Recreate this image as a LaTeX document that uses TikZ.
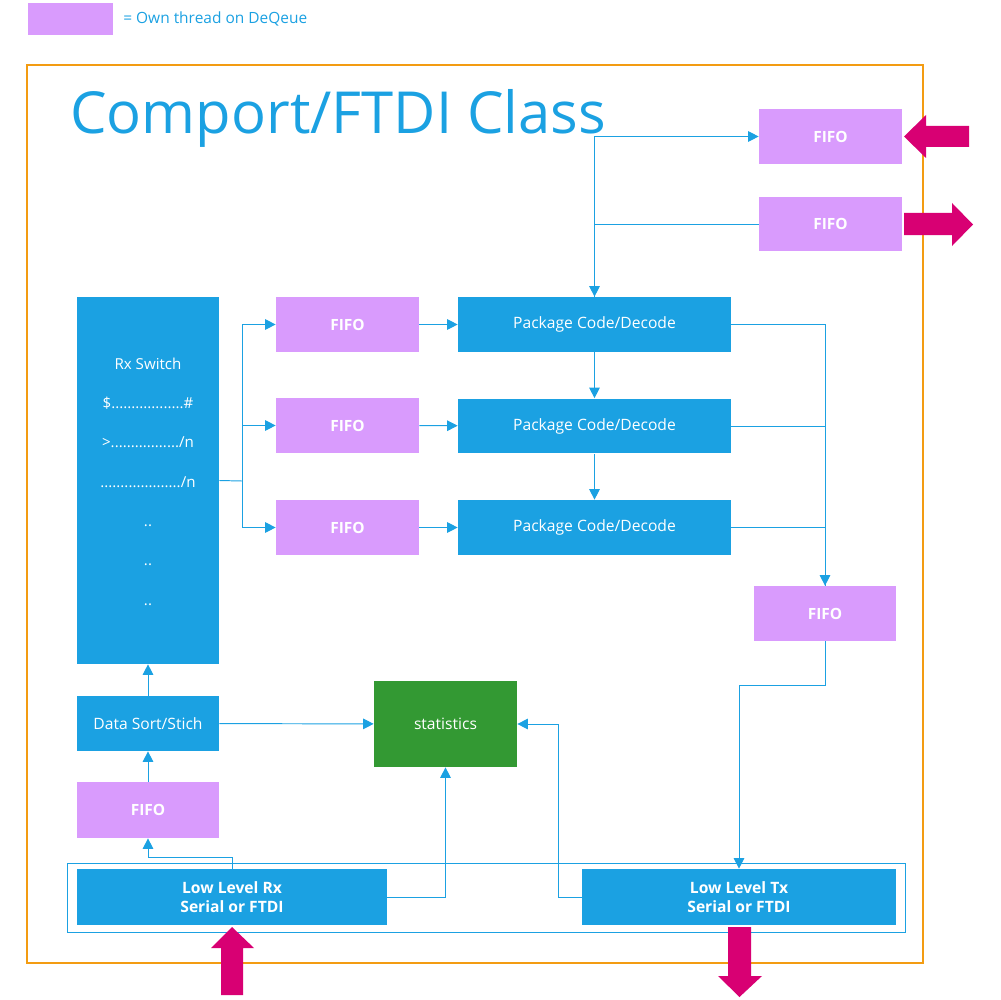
\documentclass[tikz,border=0pt]{standalone}
\usepackage{fontspec}
\setmainfont{Open Sans}
\usetikzlibrary{arrows.meta, calc}
\definecolor{cpblue}{HTML}{1BA1E2}
\definecolor{cplilac}{HTML}{D99BFD}
\definecolor{cpgreen}{HTML}{339933}
\definecolor{cpmagenta}{HTML}{D80073}
\definecolor{cporange}{HTML}{F39C12}

\tikzset{
  blk/.style={fill=cpblue, text=white, inner sep=0pt, font=\fontsize{8.9}{10}\selectfont},
  fifo/.style={fill=cplilac, text=white, inner sep=0pt, minimum width=2.86cm,
               minimum height=1.1cm, font=\fontsize{8.8}{10}\selectfont\bfseries},
  pkg/.style={blk, minimum width=5.46cm, minimum height=1.1cm},
  lnk/.style={draw=cpblue, line width=0.55pt},
  arr/.style={lnk, -{Triangle[length=6pt,width=6pt]}},
}

\begin{document}
\begin{tikzpicture}[x=0.02cm, y=-0.02cm]
  \useasboundingbox (0,0) rectangle (1000,1000);

  % legend
  \node[fill=cplilac, minimum width=1.7cm, minimum height=0.64cm, inner sep=0pt] (legbox) at (70.5,19) {};
  \node[anchor=west, text=cpblue, inner sep=0pt, font=\fontsize{8.8}{10}\selectfont] (legtext) at (123,19) {= Own thread on DeQeue};

  % class frame
  \draw[cporange, line width=1.2pt] (27,65) rectangle (923,963);
  \node[anchor=base west, text=cpblue, inner sep=0pt, font=\fontsize{33}{40}\selectfont] (title) at (70,134) {Comport/FTDI Class};

  % top fifos
  \node[fifo] (fifoT1) at (830.5,136.5) {FIFO};
  \node[fifo] (fifoT2) at (830.5,224) {FIFO};

  % rx switch
  \node[blk, minimum width=2.84cm, minimum height=7.34cm] (rxsw) at (148,480.5) {};
  \node[text=white, align=center, inner sep=0pt, font=\fontsize{8.6}{22.4}\selectfont] (rxtext) at (148,481.5)
    {Rx Switch\\ \$..................\#\\ >................./n\\ ..................../n\\ ..\\ ..\\ ..};

  \node[fifo] (fifoA) at (347.5,324.5) {FIFO};
  \node[fifo] (fifoB) at (347.5,425.5) {FIFO};
  \node[fifo] (fifoC) at (347.5,527.5) {FIFO};

  \node[pkg] (pcA) at (594.5,324.5) {Package Code/Decode};
  \node[pkg] (pcB) at (594.5,426) {Package Code/Decode};
  \node[pkg] (pcC) at (594.5,527.5) {Package Code/Decode};

  \node[fifo, minimum width=2.84cm] (fifoR) at (825,613.5) {FIFO};

  \node[blk, minimum width=2.84cm, minimum height=1.1cm] (sort) at (148,723.5) {Data Sort/Stich};
  \node[blk, fill=cpgreen, minimum width=2.86cm, minimum height=1.72cm] (stats) at (445.5,724) {statistics};
  \node[fifo, minimum width=2.84cm, minimum height=1.12cm] (fifoL) at (148,810) {FIFO};

  % low level
  \draw[cpblue, line width=0.55pt] (67,863) rectangle (905,932);
  \node[blk, align=center, minimum width=6.2cm, minimum height=1.12cm, font=\fontsize{8.9}{11}\selectfont\bfseries] (llrx) at (232,897) {Low Level Rx\\Serial or FTDI};
  \node[blk, align=center, minimum width=6.28cm, minimum height=1.12cm, font=\fontsize{8.9}{11}\selectfont\bfseries] (lltx) at (739,897) {Low Level Tx\\Serial or FTDI};

  % connectors
  \coordinate (rxsplit) at (242,481);
  \coordinate (txbend) at (739,685);
  \coordinate (rxbend) at (232,857);
  \coordinate (txleft) at (558,897);

  \draw[arr] (pcA.north) |- (fifoT1.west);
  \draw[arr] (fifoT2.west) -| (pcA.north);

  \draw[lnk] (rxsw.east) -- (rxsplit);
  \draw[arr] (rxsplit) |- (fifoA.west);
  \draw[arr] (rxsplit) |- (fifoB.west);
  \draw[arr] (rxsplit) |- (fifoC.west);

  \draw[arr] (fifoA) -- (pcA);
  \draw[arr] (fifoB) -- (pcB);
  \draw[arr] (fifoC) -- (pcC);
  \draw[arr] (pcA) -- (pcB);
  \draw[arr] (pcB) -- (pcC);

  \draw[lnk] (pcA.east) -| (fifoR.north);
  \draw[lnk] (pcB.east) -| (fifoR.north);
  \draw[arr] (pcC.east) -| (fifoR.north);
  \draw[arr] (fifoR.south) |- (txbend) -- (lltx.north);

  \draw[arr] (sort) -- (rxsw);
  \draw[arr] (fifoL) -- (sort);
  \draw[arr] (sort) -- (stats);
  \draw[arr] (llrx.north) -- (rxbend) -| (fifoL.south);
  \draw[arr] (llrx.east) -| (stats.south);
  \draw[arr] (lltx.west) -- (txleft) |- (stats.east);

  % in/out arrows
  \fill[cpmagenta] (969,126) -- (926,126) -- (926,115) -- (904,136.5) -- (926,158) -- (926,147) -- (969,147) -- cycle;
  \fill[cpmagenta] (904,213) -- (952,213) -- (952,203) -- (973,224.5) -- (952,246) -- (952,235) -- (904,235) -- cycle;
  \fill[cpmagenta] (221,995) -- (221,948) -- (211,948) -- (232,927) -- (254,948) -- (243,948) -- (243,995) -- cycle;
  \fill[cpmagenta] (728,927) -- (728,976) -- (718,976) -- (739.5,997) -- (762,976) -- (751,976) -- (751,927) -- cycle;
\end{tikzpicture}
\end{document}
